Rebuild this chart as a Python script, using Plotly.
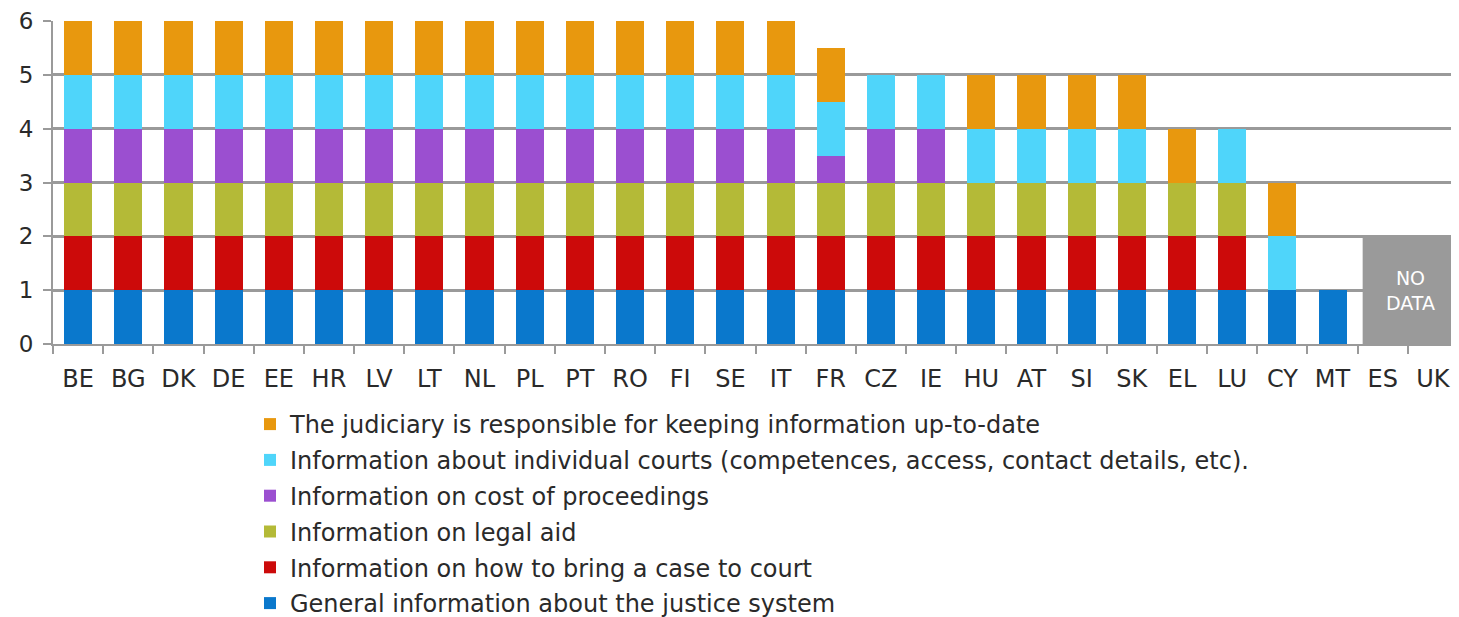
import plotly.graph_objects as go

countries = ["BE","BG","DK","DE","EE","HR","LV","LT","NL","PL","PT","RO","FI","SE","IT",
             "FR","CZ","IE","HU","AT","SI","SK","EL","LU","CY","MT","ES","UK"]

general   = [1]*15 + [1, 1, 1, 1, 1, 1, 1, 1, 1, 1, 1, 0, 0]
case      = [1]*15 + [1, 1, 1, 1, 1, 1, 1, 1, 1, 0, 0, 0, 0]
legal_aid = [1]*15 + [1, 1, 1, 1, 1, 1, 1, 1, 1, 0, 0, 0, 0]
cost      = [1]*15 + [0.5, 1, 1, 0, 0, 0, 0, 0, 0, 0, 0, 0, 0]
courts    = [1]*15 + [1, 1, 1, 1, 1, 1, 1, 0, 1, 1, 0, 0, 0]
judiciary = [1]*15 + [1, 0, 0, 1, 1, 1, 1, 1, 0, 1, 0, 0, 0]

series = [
    ("General information about the justice system", general, "#0A78CC"),
    ("Information on how to bring a case to court", case, "#CC0A0A"),
    ("Information on legal aid", legal_aid, "#B4BA37"),
    ("Information on cost of proceedings", cost, "#9B4FD0"),
    ("Information about individual courts (competences, access, contact details, etc).", courts, "#4FD5FA"),
    ("The judiciary is responsible for keeping information up-to-date", judiciary, "#E8980E"),
]

no_data = ["ES", "UK"]
no_data_height = 2

FONT = "DejaVu Sans"
W, H = 1451, 609  # page body adds an 8px offset

fig = go.Figure()
n = len(series)
for k, (name, vals, col) in enumerate(series):
    fig.add_trace(go.Bar(x=countries, y=vals, name=name, marker_color=col,
                         marker_line_width=0, legendgroup=f"g{k}", legendrank=n - k))

i0 = countries.index(no_data[0])
i1 = countries.index(no_data[-1])
fig.add_shape(type="rect", xref="x", yref="y", x0=i0 - 0.4, x1=i1 + 0.5,
              y0=0, y1=no_data_height, fillcolor="#9A9A9A", line_width=0, layer="above")
fig.add_annotation(x=(i0 + i1) / 2 + 0.05, y=no_data_height / 2, xref="x", yref="y",
                   text="NO<br>DATA", showarrow=False,
                   font=dict(color="white", size=19, family=FONT))

fig.update_layout(
    barmode="stack",
    bargap=0.44,
    width=W, height=H,
    margin=dict(l=45, r=1, t=13, b=273, autoexpand=False),
    plot_bgcolor="white", paper_bgcolor="white",
    font=dict(family=FONT, size=22, color="#2A2A2A"),
    legend=dict(traceorder="grouped", orientation="v",
                xref="container", x=242 / W, xanchor="left",
                yref="container", y=1 - 394 / H, yanchor="top",
                font=dict(size=24, family=FONT), itemwidth=30, tracegroupgap=1.6,
                maxheight=1000, bgcolor="rgba(0,0,0,0)"),
    showlegend=True,
)
fig.update_xaxes(showline=True, linecolor="#9A9A9A", linewidth=2, ticks="outside",
                 tickson="boundaries", ticklen=8, tickcolor="#9A9A9A", tickwidth=2,
                 tickfont=dict(size=24), ticklabelstandoff=12, automargin=False)
fig.update_yaxes(range=[0, 6], dtick=1, showgrid=True, gridcolor="#9A9A9A", gridwidth=3,
                 showline=True, linecolor="#9A9A9A", linewidth=2, ticks="outside",
                 ticklen=8, tickcolor="#9A9A9A", tickwidth=2, zeroline=False,
                 tickfont=dict(size=23), ticklabeloverflow="allow", ticklabelstandoff=5,
                 automargin=False)

fig.write_html("out.html")
